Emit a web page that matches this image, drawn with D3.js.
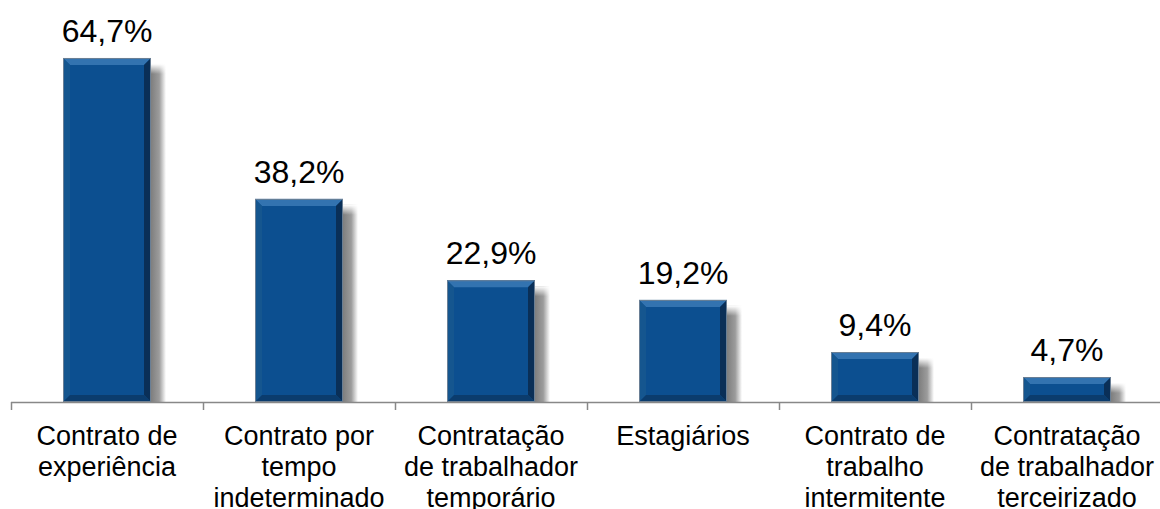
<!DOCTYPE html>
<html>
<head>
<meta charset="utf-8">
<script src="https://cdn.jsdelivr.net/npm/d3@7"></script>
<style>
  body { margin: 0; background: #fff; }
  text { font-family: "Liberation Sans", Arial, sans-serif; fill: #000; }
</style>
</head>
<body>
<svg id="chart" width="1160" height="509"></svg>
<script>
// data
const categories = [
    ["Contrato de", "experiência"],
    ["Contrato por", "tempo", "indeterminado"],
    ["Contratação", "de trabalhador", "temporário"],
    ["Estagiários"],
    ["Contrato de", "trabalho", "intermitente"],
    ["Contratação", "de trabalhador", "terceirizado"]
];
const values = [64.7, 38.2, 22.9, 19.2, 9.4, 4.7];
const valueLabels = ["64,7%", "38,2%", "22,9%", "19,2%", "9,4%", "4,7%"];

const svg = d3.select("#chart");
const baseY = 402;

const x = d3.scaleBand()
    .domain(d3.range(categories.length))
    .range([11, 1163])
    .padding(0);
const y = d3.scaleLinear().domain([0, 70]).range([baseY, baseY - 70 * 5.317]);
const barW = 88;

// shadow gradient (right side of each bar)
const defs = svg.append("defs");
const g1 = defs.append("linearGradient").attr("id", "shadowGrad")
    .attr("x1", 0).attr("x2", 1).attr("y1", 0).attr("y2", 0);
g1.append("stop").attr("offset", 0).attr("stop-color", "#7e7e7e");
g1.append("stop").attr("offset", 0.55).attr("stop-color", "#9c9c9c");
g1.append("stop").attr("offset", 1).attr("stop-color", "#ffffff");
const g2 = defs.append("linearGradient").attr("id", "shadowTop")
    .attr("x1", 0).attr("x2", 0).attr("y1", 0).attr("y2", 1);
g2.append("stop").attr("offset", 0).attr("stop-color", "#fff").attr("stop-opacity", 1);
g2.append("stop").attr("offset", 1).attr("stop-color", "#fff").attr("stop-opacity", 0);

const bars = svg.append("g").selectAll("g")
    .data(values)
    .enter()
    .append("g")
    .attr("transform", (d, i) => "translate(" + (x(i) + x.bandwidth() / 2 - barW / 2) + ",0)");

// shadow
bars.append("rect")
    .attr("x", barW)
    .attr("y", d => y(d) + 6)
    .attr("width", 15)
    .attr("height", d => baseY - y(d) - 6)
    .attr("fill", "url(#shadowGrad)");
bars.append("rect")
    .attr("x", barW)
    .attr("y", d => y(d) + 6)
    .attr("width", 15)
    .attr("height", 10)
    .attr("fill", "url(#shadowTop)");

// main face
bars.append("rect")
    .attr("x", 0)
    .attr("y", d => y(d))
    .attr("width", barW)
    .attr("height", d => baseY - y(d))
    .attr("fill", "#0c4f90");

// bevels
const bv = 7;
const bevel = function (pts) { return pts.map(p => p.join(",")).join(" "); };
bars.append("polygon") // top
    .attr("points", d => bevel([[0, y(d)], [barW, y(d)], [barW - bv, y(d) + bv], [bv, y(d) + bv]]))
    .attr("fill", "#3373b0");
bars.append("polygon") // left
    .attr("points", d => bevel([[0, y(d)], [bv, y(d) + bv], [bv, baseY - bv], [0, baseY]]))
    .attr("fill", "#15568f");
bars.append("polygon") // right
    .attr("points", d => bevel([[barW, y(d)], [barW, baseY], [barW - bv, baseY - bv], [barW - bv, y(d) + bv]]))
    .attr("fill", "#0a2f57");
bars.append("polygon") // bottom
    .attr("points", d => bevel([[0, baseY], [bv, baseY - bv], [barW - bv, baseY - bv], [barW, baseY]]))
    .attr("fill", "#0b3c6d");
bars.append("rect")
    .attr("x", 0.5)
    .attr("y", d => y(d) + 0.5)
    .attr("width", barW - 1)
    .attr("height", d => baseY - y(d) - 1)
    .attr("fill", "none")
    .attr("stroke", "#6a7f95")
    .attr("stroke-width", 1);

// value labels
bars.append("text")
    .attr("x", barW / 2)
    .attr("y", d => y(d) - 16)
    .attr("text-anchor", "middle")
    .style("font-size", "32px")
    .text((d, i) => valueLabels[i]);

// axis
const axis = svg.append("g");
axis.append("line")
    .attr("x1", 11).attr("x2", 1160)
    .attr("y1", baseY + 0.5).attr("y2", baseY + 0.5)
    .attr("stroke", "#888").attr("stroke-width", 1.5);
axis.selectAll(".tick")
    .data(d3.range(categories.length + 1))
    .enter()
    .append("line")
    .attr("x1", i => x.step() * i + 11.5)
    .attr("x2", i => x.step() * i + 11.5)
    .attr("y1", baseY)
    .attr("y2", baseY + 8)
    .attr("stroke", "#888").attr("stroke-width", 1.5);

// category labels
const cats = svg.append("g").selectAll("text")
    .data(categories)
    .enter()
    .append("text")
    .attr("text-anchor", "middle")
    .style("font-size", "27px");
cats.selectAll("tspan")
    .data((d, i) => d.map(t => ({ t: t, i: i })))
    .enter()
    .append("tspan")
    .attr("x", d => x(d.i) + x.bandwidth() / 2)
    .attr("y", (d, j) => 445 + j * 31)
    .text(d => d.t);
</script>
</body>
</html>
